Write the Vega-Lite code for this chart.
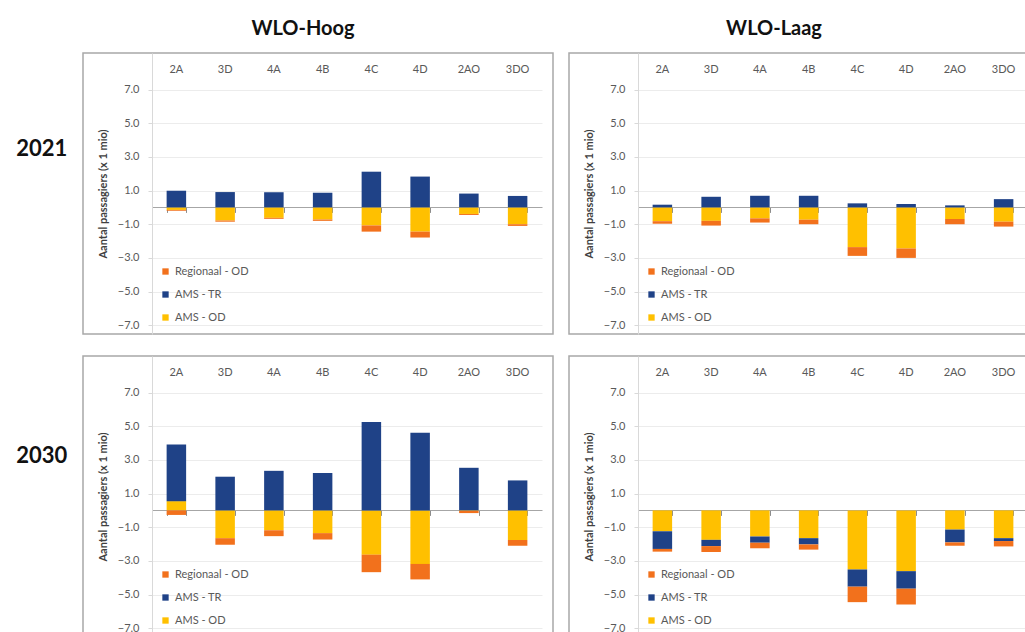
{
  "$schema": "https://vega.github.io/schema/vega-lite/v6.json",
  "padding": {"left": 16, "top": 18, "right": 0, "bottom": 0},
  "config": {
    "font": "Lato",
    "view": {"stroke": "#a8a8a8", "strokeWidth": 1.5},
    "axis": {"labelColor": "#595959", "labelFont": "Lato"},
    "legend": {"labelFont": "Lato"}
  },
  "datasets": {
    "d": [
      {"jaar": "2021", "scen": "WLO-Hoog", "cat": "2A", "k": "AMS - OD", "v": -0.15},
      {"jaar": "2021", "scen": "WLO-Hoog", "cat": "2A", "k": "AMS - TR", "v": 0.99},
      {"jaar": "2021", "scen": "WLO-Hoog", "cat": "2A", "k": "Regionaal - OD", "v": -0.05},
      {"jaar": "2021", "scen": "WLO-Hoog", "cat": "3D", "k": "AMS - OD", "v": -0.78},
      {"jaar": "2021", "scen": "WLO-Hoog", "cat": "3D", "k": "AMS - TR", "v": 0.91},
      {"jaar": "2021", "scen": "WLO-Hoog", "cat": "3D", "k": "Regionaal - OD", "v": -0.07},
      {"jaar": "2021", "scen": "WLO-Hoog", "cat": "4A", "k": "AMS - OD", "v": -0.62},
      {"jaar": "2021", "scen": "WLO-Hoog", "cat": "4A", "k": "AMS - TR", "v": 0.9},
      {"jaar": "2021", "scen": "WLO-Hoog", "cat": "4A", "k": "Regionaal - OD", "v": -0.06},
      {"jaar": "2021", "scen": "WLO-Hoog", "cat": "4B", "k": "AMS - OD", "v": -0.72},
      {"jaar": "2021", "scen": "WLO-Hoog", "cat": "4B", "k": "AMS - TR", "v": 0.87},
      {"jaar": "2021", "scen": "WLO-Hoog", "cat": "4B", "k": "Regionaal - OD", "v": -0.08},
      {"jaar": "2021", "scen": "WLO-Hoog", "cat": "4C", "k": "AMS - OD", "v": -1.07},
      {"jaar": "2021", "scen": "WLO-Hoog", "cat": "4C", "k": "AMS - TR", "v": 2.12},
      {"jaar": "2021", "scen": "WLO-Hoog", "cat": "4C", "k": "Regionaal - OD", "v": -0.37},
      {"jaar": "2021", "scen": "WLO-Hoog", "cat": "4D", "k": "AMS - OD", "v": -1.44},
      {"jaar": "2021", "scen": "WLO-Hoog", "cat": "4D", "k": "AMS - TR", "v": 1.83},
      {"jaar": "2021", "scen": "WLO-Hoog", "cat": "4D", "k": "Regionaal - OD", "v": -0.35},
      {"jaar": "2021", "scen": "WLO-Hoog", "cat": "2AO", "k": "AMS - OD", "v": -0.39},
      {"jaar": "2021", "scen": "WLO-Hoog", "cat": "2AO", "k": "AMS - TR", "v": 0.82},
      {"jaar": "2021", "scen": "WLO-Hoog", "cat": "2AO", "k": "Regionaal - OD", "v": -0.06},
      {"jaar": "2021", "scen": "WLO-Hoog", "cat": "3DO", "k": "AMS - OD", "v": -1.0},
      {"jaar": "2021", "scen": "WLO-Hoog", "cat": "3DO", "k": "AMS - TR", "v": 0.68},
      {"jaar": "2021", "scen": "WLO-Hoog", "cat": "3DO", "k": "Regionaal - OD", "v": -0.1},
      {"jaar": "2021", "scen": "WLO-Laag", "cat": "2A", "k": "AMS - OD", "v": -0.82},
      {"jaar": "2021", "scen": "WLO-Laag", "cat": "2A", "k": "AMS - TR", "v": 0.16},
      {"jaar": "2021", "scen": "WLO-Laag", "cat": "2A", "k": "Regionaal - OD", "v": -0.15},
      {"jaar": "2021", "scen": "WLO-Laag", "cat": "3D", "k": "AMS - OD", "v": -0.8},
      {"jaar": "2021", "scen": "WLO-Laag", "cat": "3D", "k": "AMS - TR", "v": 0.63},
      {"jaar": "2021", "scen": "WLO-Laag", "cat": "3D", "k": "Regionaal - OD", "v": -0.28},
      {"jaar": "2021", "scen": "WLO-Laag", "cat": "4A", "k": "AMS - OD", "v": -0.65},
      {"jaar": "2021", "scen": "WLO-Laag", "cat": "4A", "k": "AMS - TR", "v": 0.69},
      {"jaar": "2021", "scen": "WLO-Laag", "cat": "4A", "k": "Regionaal - OD", "v": -0.25},
      {"jaar": "2021", "scen": "WLO-Laag", "cat": "4B", "k": "AMS - OD", "v": -0.73},
      {"jaar": "2021", "scen": "WLO-Laag", "cat": "4B", "k": "AMS - TR", "v": 0.69},
      {"jaar": "2021", "scen": "WLO-Laag", "cat": "4B", "k": "Regionaal - OD", "v": -0.27},
      {"jaar": "2021", "scen": "WLO-Laag", "cat": "4C", "k": "AMS - OD", "v": -2.36},
      {"jaar": "2021", "scen": "WLO-Laag", "cat": "4C", "k": "AMS - TR", "v": 0.24},
      {"jaar": "2021", "scen": "WLO-Laag", "cat": "4C", "k": "Regionaal - OD", "v": -0.52},
      {"jaar": "2021", "scen": "WLO-Laag", "cat": "4D", "k": "AMS - OD", "v": -2.44},
      {"jaar": "2021", "scen": "WLO-Laag", "cat": "4D", "k": "AMS - TR", "v": 0.2},
      {"jaar": "2021", "scen": "WLO-Laag", "cat": "4D", "k": "Regionaal - OD", "v": -0.56},
      {"jaar": "2021", "scen": "WLO-Laag", "cat": "2AO", "k": "AMS - OD", "v": -0.69},
      {"jaar": "2021", "scen": "WLO-Laag", "cat": "2AO", "k": "AMS - TR", "v": 0.12},
      {"jaar": "2021", "scen": "WLO-Laag", "cat": "2AO", "k": "Regionaal - OD", "v": -0.31},
      {"jaar": "2021", "scen": "WLO-Laag", "cat": "3DO", "k": "AMS - OD", "v": -0.85},
      {"jaar": "2021", "scen": "WLO-Laag", "cat": "3DO", "k": "AMS - TR", "v": 0.49},
      {"jaar": "2021", "scen": "WLO-Laag", "cat": "3DO", "k": "Regionaal - OD", "v": -0.29},
      {"jaar": "2030", "scen": "WLO-Hoog", "cat": "2A", "k": "AMS - OD", "v": 0.55},
      {"jaar": "2030", "scen": "WLO-Hoog", "cat": "2A", "k": "AMS - TR", "v": 3.37},
      {"jaar": "2030", "scen": "WLO-Hoog", "cat": "2A", "k": "Regionaal - OD", "v": -0.27},
      {"jaar": "2030", "scen": "WLO-Hoog", "cat": "3D", "k": "AMS - OD", "v": -1.65},
      {"jaar": "2030", "scen": "WLO-Hoog", "cat": "3D", "k": "AMS - TR", "v": 2.0},
      {"jaar": "2030", "scen": "WLO-Hoog", "cat": "3D", "k": "Regionaal - OD", "v": -0.39},
      {"jaar": "2030", "scen": "WLO-Hoog", "cat": "4A", "k": "AMS - OD", "v": -1.18},
      {"jaar": "2030", "scen": "WLO-Hoog", "cat": "4A", "k": "AMS - TR", "v": 2.35},
      {"jaar": "2030", "scen": "WLO-Hoog", "cat": "4A", "k": "Regionaal - OD", "v": -0.35},
      {"jaar": "2030", "scen": "WLO-Hoog", "cat": "4B", "k": "AMS - OD", "v": -1.35},
      {"jaar": "2030", "scen": "WLO-Hoog", "cat": "4B", "k": "AMS - TR", "v": 2.22},
      {"jaar": "2030", "scen": "WLO-Hoog", "cat": "4B", "k": "Regionaal - OD", "v": -0.38},
      {"jaar": "2030", "scen": "WLO-Hoog", "cat": "4C", "k": "AMS - OD", "v": -2.63},
      {"jaar": "2030", "scen": "WLO-Hoog", "cat": "4C", "k": "AMS - TR", "v": 5.25},
      {"jaar": "2030", "scen": "WLO-Hoog", "cat": "4C", "k": "Regionaal - OD", "v": -1.04},
      {"jaar": "2030", "scen": "WLO-Hoog", "cat": "4D", "k": "AMS - OD", "v": -3.18},
      {"jaar": "2030", "scen": "WLO-Hoog", "cat": "4D", "k": "AMS - TR", "v": 4.61},
      {"jaar": "2030", "scen": "WLO-Hoog", "cat": "4D", "k": "Regionaal - OD", "v": -0.92},
      {"jaar": "2030", "scen": "WLO-Hoog", "cat": "2AO", "k": "AMS - OD", "v": -0.03},
      {"jaar": "2030", "scen": "WLO-Hoog", "cat": "2AO", "k": "AMS - TR", "v": 2.53},
      {"jaar": "2030", "scen": "WLO-Hoog", "cat": "2AO", "k": "Regionaal - OD", "v": -0.13},
      {"jaar": "2030", "scen": "WLO-Hoog", "cat": "3DO", "k": "AMS - OD", "v": -1.76},
      {"jaar": "2030", "scen": "WLO-Hoog", "cat": "3DO", "k": "AMS - TR", "v": 1.78},
      {"jaar": "2030", "scen": "WLO-Hoog", "cat": "3DO", "k": "Regionaal - OD", "v": -0.34},
      {"jaar": "2030", "scen": "WLO-Laag", "cat": "2A", "k": "AMS - OD", "v": -1.24},
      {"jaar": "2030", "scen": "WLO-Laag", "cat": "2A", "k": "AMS - TR", "v": -1.05},
      {"jaar": "2030", "scen": "WLO-Laag", "cat": "2A", "k": "Regionaal - OD", "v": -0.16},
      {"jaar": "2030", "scen": "WLO-Laag", "cat": "3D", "k": "AMS - OD", "v": -1.75},
      {"jaar": "2030", "scen": "WLO-Laag", "cat": "3D", "k": "AMS - TR", "v": -0.37},
      {"jaar": "2030", "scen": "WLO-Laag", "cat": "3D", "k": "Regionaal - OD", "v": -0.35},
      {"jaar": "2030", "scen": "WLO-Laag", "cat": "4A", "k": "AMS - OD", "v": -1.55},
      {"jaar": "2030", "scen": "WLO-Laag", "cat": "4A", "k": "AMS - TR", "v": -0.37},
      {"jaar": "2030", "scen": "WLO-Laag", "cat": "4A", "k": "Regionaal - OD", "v": -0.33},
      {"jaar": "2030", "scen": "WLO-Laag", "cat": "4B", "k": "AMS - OD", "v": -1.65},
      {"jaar": "2030", "scen": "WLO-Laag", "cat": "4B", "k": "AMS - TR", "v": -0.37},
      {"jaar": "2030", "scen": "WLO-Laag", "cat": "4B", "k": "Regionaal - OD", "v": -0.31},
      {"jaar": "2030", "scen": "WLO-Laag", "cat": "4C", "k": "AMS - OD", "v": -3.51},
      {"jaar": "2030", "scen": "WLO-Laag", "cat": "4C", "k": "AMS - TR", "v": -1.02},
      {"jaar": "2030", "scen": "WLO-Laag", "cat": "4C", "k": "Regionaal - OD", "v": -0.92},
      {"jaar": "2030", "scen": "WLO-Laag", "cat": "4D", "k": "AMS - OD", "v": -3.61},
      {"jaar": "2030", "scen": "WLO-Laag", "cat": "4D", "k": "AMS - TR", "v": -1.04},
      {"jaar": "2030", "scen": "WLO-Laag", "cat": "4D", "k": "Regionaal - OD", "v": -0.94},
      {"jaar": "2030", "scen": "WLO-Laag", "cat": "2AO", "k": "AMS - OD", "v": -1.14},
      {"jaar": "2030", "scen": "WLO-Laag", "cat": "2AO", "k": "AMS - TR", "v": -0.76},
      {"jaar": "2030", "scen": "WLO-Laag", "cat": "2AO", "k": "Regionaal - OD", "v": -0.2},
      {"jaar": "2030", "scen": "WLO-Laag", "cat": "3DO", "k": "AMS - OD", "v": -1.65},
      {"jaar": "2030", "scen": "WLO-Laag", "cat": "3DO", "k": "AMS - TR", "v": -0.17},
      {"jaar": "2030", "scen": "WLO-Laag", "cat": "3DO", "k": "Regionaal - OD", "v": -0.32}
    ]
  },
  "data": {"name": "d"},
  "spacing": 20,
  "resolve": {"scale": {"color": "independent", "x": "independent", "y": "independent"}, "legend": {"color": "independent"}},
  "vconcat": [
    {
      "title": {"text": "2021", "orient": "left", "angle": 0, "align": "right", "baseline": "middle", "anchor": "middle", "fontSize": 22, "fontWeight": "bold", "color": "#111111", "offset": -36, "dy": -28},
      "spacing": 14,
      "resolve": {"scale": {"color": "independent", "x": "independent", "y": "independent"}, "legend": {"color": "independent"}},
      "hconcat": [
        {
          "width": 470, "height": 281,
          "title": {"text": "WLO-Hoog", "fontSize": 20, "fontWeight": "bold", "color": "#111111", "offset": 14, "dx": -15, "anchor": "middle"},
          "transform": [{"filter": "datum.jaar === '2021' && datum.scen === 'WLO-Hoog'"}],
          "layer": [
            {
              "mark": {"type": "bar"},
              "encoding": {
                "x": {"field": "cat", "type": "nominal", "scale": {"domain": ["2A", "3D", "4A", "4B", "4C", "4D", "2AO", "3DO"], "range": [69, 459], "paddingInner": 0.6, "paddingOuter": 0.3},
                      "axis": {"orient": "top", "offset": -16, "title": null, "domain": false, "ticks": false, "labelAngle": 0, "labelPadding": 0, "labelBaseline": "middle", "labelFontSize": 11}},
                "y": {"field": "v", "type": "quantitative", "stack": "zero", "scale": {"domain": [-7.52, 9.17], "nice": false, "zero": false},
                      "axis": {"orient": "left", "offset": -69, "values": [-7, -5, -3, -1, 0, 1, 3, 5, 7], "format": ".1f", "labelExpr": "datum.value === 0 ? '' : datum.label",
                               "grid": true, "gridColor": {"condition": {"test": "datum.value === 0", "value": "#a6a6a6"}, "value": "#ececec"},
                               "domain": true, "domainColor": "#d9d9d9", "ticks": true, "tickSize": 4, "tickColor": "#d9d9d9", "tickOpacity": {"condition": {"test": "datum.value === 0", "value": 0}, "value": 1},
                               "labelPadding": 9, "labelFontSize": 11, "title": "Aantal passagiers (x 1 mio)", "titleFontSize": 11, "titleFontWeight": "bold", "titleColor": "#404040", "titlePadding": 9}},
                "color": {"field": "k", "type": "nominal", "scale": {"domain": ["Regionaal - OD", "AMS - TR", "AMS - OD"], "range": ["#F2711C", "#1F4287", "#FFC000"]},
                          "legend": {"orient": "none", "legendX": 77, "legendY": 213, "title": null, "symbolType": "square", "symbolSize": 40, "symbolStrokeWidth": 0, "labelFontSize": 11, "labelColor": "#595959", "rowPadding": 11}},
                "order": {"field": "k", "sort": "ascending"}
              }
            },
            {
              "mark": {"type": "bar", "opacity": 0},
              "encoding": {
                "x": {"field": "cat", "type": "nominal", "axis": {"orient": "bottom", "offset": -126.6, "title": null, "labels": false, "domain": false, "ticks": true, "tickBand": "extent", "tickSize": 5, "tickColor": "#8c8c8c"}}
              }
            }
          ]
        },
        {
          "width": 470, "height": 281,
          "title": {"text": "WLO-Laag", "fontSize": 20, "fontWeight": "bold", "color": "#111111", "offset": 14, "dx": -30, "anchor": "middle"},
          "transform": [{"filter": "datum.jaar === '2021' && datum.scen === 'WLO-Laag'"}],
          "layer": [
            {
              "mark": {"type": "bar"},
              "encoding": {
                "x": {"field": "cat", "type": "nominal", "scale": {"domain": ["2A", "3D", "4A", "4B", "4C", "4D", "2AO", "3DO"], "range": [69, 459], "paddingInner": 0.6, "paddingOuter": 0.3},
                      "axis": {"orient": "top", "offset": -16, "title": null, "domain": false, "ticks": false, "labelAngle": 0, "labelPadding": 0, "labelBaseline": "middle", "labelFontSize": 11}},
                "y": {"field": "v", "type": "quantitative", "stack": "zero", "scale": {"domain": [-7.52, 9.17], "nice": false, "zero": false},
                      "axis": {"orient": "left", "offset": -69, "values": [-7, -5, -3, -1, 0, 1, 3, 5, 7], "format": ".1f", "labelExpr": "datum.value === 0 ? '' : datum.label",
                               "grid": true, "gridColor": {"condition": {"test": "datum.value === 0", "value": "#a6a6a6"}, "value": "#ececec"},
                               "domain": true, "domainColor": "#d9d9d9", "ticks": true, "tickSize": 4, "tickColor": "#d9d9d9", "tickOpacity": {"condition": {"test": "datum.value === 0", "value": 0}, "value": 1},
                               "labelPadding": 9, "labelFontSize": 11, "title": "Aantal passagiers (x 1 mio)", "titleFontSize": 11, "titleFontWeight": "bold", "titleColor": "#404040", "titlePadding": 9}},
                "color": {"field": "k", "type": "nominal", "scale": {"domain": ["Regionaal - OD", "AMS - TR", "AMS - OD"], "range": ["#F2711C", "#1F4287", "#FFC000"]},
                          "legend": {"orient": "none", "legendX": 77, "legendY": 213, "title": null, "symbolType": "square", "symbolSize": 40, "symbolStrokeWidth": 0, "labelFontSize": 11, "labelColor": "#595959", "rowPadding": 11}},
                "order": {"field": "k", "sort": "ascending"}
              }
            },
            {
              "mark": {"type": "bar", "opacity": 0},
              "encoding": {
                "x": {"field": "cat", "type": "nominal", "axis": {"orient": "bottom", "offset": -126.6, "title": null, "labels": false, "domain": false, "ticks": true, "tickBand": "extent", "tickSize": 5, "tickColor": "#8c8c8c"}}
              }
            }
          ]
        }
      ]
    },
    {
      "title": {"text": "2030", "orient": "left", "angle": 0, "align": "right", "baseline": "middle", "anchor": "middle", "fontSize": 22, "fontWeight": "bold", "color": "#111111", "offset": -36, "dy": -41},
      "spacing": 14,
      "resolve": {"scale": {"color": "independent", "x": "independent", "y": "independent"}, "legend": {"color": "independent"}},
      "hconcat": [
        {
          "width": 470, "height": 281,
          "transform": [{"filter": "datum.jaar === '2030' && datum.scen === 'WLO-Hoog'"}],
          "layer": [
            {
              "mark": {"type": "bar"},
              "encoding": {
                "x": {"field": "cat", "type": "nominal", "scale": {"domain": ["2A", "3D", "4A", "4B", "4C", "4D", "2AO", "3DO"], "range": [69, 459], "paddingInner": 0.6, "paddingOuter": 0.3},
                      "axis": {"orient": "top", "offset": -16, "title": null, "domain": false, "ticks": false, "labelAngle": 0, "labelPadding": 0, "labelBaseline": "middle", "labelFontSize": 11}},
                "y": {"field": "v", "type": "quantitative", "stack": "zero", "scale": {"domain": [-7.52, 9.17], "nice": false, "zero": false},
                      "axis": {"orient": "left", "offset": -69, "values": [-7, -5, -3, -1, 0, 1, 3, 5, 7], "format": ".1f", "labelExpr": "datum.value === 0 ? '' : datum.label",
                               "grid": true, "gridColor": {"condition": {"test": "datum.value === 0", "value": "#a6a6a6"}, "value": "#ececec"},
                               "domain": true, "domainColor": "#d9d9d9", "ticks": true, "tickSize": 4, "tickColor": "#d9d9d9", "tickOpacity": {"condition": {"test": "datum.value === 0", "value": 0}, "value": 1},
                               "labelPadding": 9, "labelFontSize": 11, "title": "Aantal passagiers (x 1 mio)", "titleFontSize": 11, "titleFontWeight": "bold", "titleColor": "#404040", "titlePadding": 9}},
                "color": {"field": "k", "type": "nominal", "scale": {"domain": ["Regionaal - OD", "AMS - TR", "AMS - OD"], "range": ["#F2711C", "#1F4287", "#FFC000"]},
                          "legend": {"orient": "none", "legendX": 77, "legendY": 213, "title": null, "symbolType": "square", "symbolSize": 40, "symbolStrokeWidth": 0, "labelFontSize": 11, "labelColor": "#595959", "rowPadding": 11}},
                "order": {"field": "k", "sort": "ascending"}
              }
            },
            {
              "mark": {"type": "bar", "opacity": 0},
              "encoding": {
                "x": {"field": "cat", "type": "nominal", "axis": {"orient": "bottom", "offset": -126.6, "title": null, "labels": false, "domain": false, "ticks": true, "tickBand": "extent", "tickSize": 5, "tickColor": "#8c8c8c"}}
              }
            }
          ]
        },
        {
          "width": 470, "height": 281,
          "transform": [{"filter": "datum.jaar === '2030' && datum.scen === 'WLO-Laag'"}],
          "layer": [
            {
              "mark": {"type": "bar"},
              "encoding": {
                "x": {"field": "cat", "type": "nominal", "scale": {"domain": ["2A", "3D", "4A", "4B", "4C", "4D", "2AO", "3DO"], "range": [69, 459], "paddingInner": 0.6, "paddingOuter": 0.3},
                      "axis": {"orient": "top", "offset": -16, "title": null, "domain": false, "ticks": false, "labelAngle": 0, "labelPadding": 0, "labelBaseline": "middle", "labelFontSize": 11}},
                "y": {"field": "v", "type": "quantitative", "stack": "zero", "scale": {"domain": [-7.52, 9.17], "nice": false, "zero": false},
                      "axis": {"orient": "left", "offset": -69, "values": [-7, -5, -3, -1, 0, 1, 3, 5, 7], "format": ".1f", "labelExpr": "datum.value === 0 ? '' : datum.label",
                               "grid": true, "gridColor": {"condition": {"test": "datum.value === 0", "value": "#a6a6a6"}, "value": "#ececec"},
                               "domain": true, "domainColor": "#d9d9d9", "ticks": true, "tickSize": 4, "tickColor": "#d9d9d9", "tickOpacity": {"condition": {"test": "datum.value === 0", "value": 0}, "value": 1},
                               "labelPadding": 9, "labelFontSize": 11, "title": "Aantal passagiers (x 1 mio)", "titleFontSize": 11, "titleFontWeight": "bold", "titleColor": "#404040", "titlePadding": 9}},
                "color": {"field": "k", "type": "nominal", "scale": {"domain": ["Regionaal - OD", "AMS - TR", "AMS - OD"], "range": ["#F2711C", "#1F4287", "#FFC000"]},
                          "legend": {"orient": "none", "legendX": 77, "legendY": 213, "title": null, "symbolType": "square", "symbolSize": 40, "symbolStrokeWidth": 0, "labelFontSize": 11, "labelColor": "#595959", "rowPadding": 11}},
                "order": {"field": "k", "sort": "ascending"}
              }
            },
            {
              "mark": {"type": "bar", "opacity": 0},
              "encoding": {
                "x": {"field": "cat", "type": "nominal", "axis": {"orient": "bottom", "offset": -126.6, "title": null, "labels": false, "domain": false, "ticks": true, "tickBand": "extent", "tickSize": 5, "tickColor": "#8c8c8c"}}
              }
            }
          ]
        }
      ]
    }
  ]
}
